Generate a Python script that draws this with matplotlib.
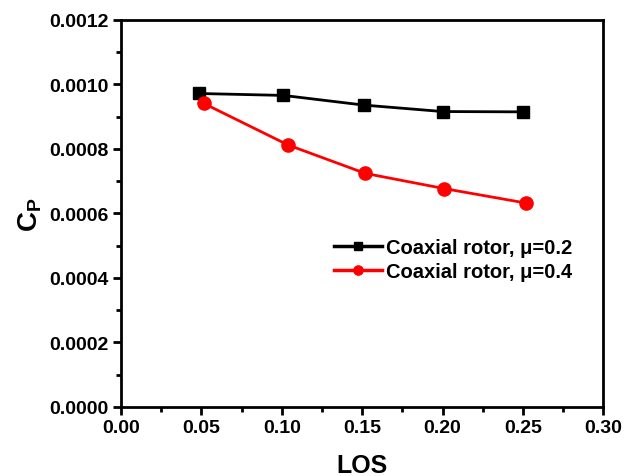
import matplotlib
matplotlib.use('Agg')
import matplotlib.pyplot as plt
from matplotlib.ticker import MultipleLocator

plt.rcParams['font.family'] = ['Liberation Sans', 'DejaVu Sans']
plt.rcParams['font.weight'] = 'bold'
plt.rcParams['mathtext.fontset'] = 'custom'
plt.rcParams['mathtext.rm'] = 'Liberation Sans:bold'
plt.rcParams['mathtext.bf'] = 'Liberation Sans:bold'
plt.rcParams['mathtext.it'] = 'Liberation Sans:bold'

# data
los_02 = [0.0484, 0.101, 0.151, 0.200, 0.250]
cp_02 = [0.000972, 0.000966, 0.000936, 0.000916, 0.000915]
los_04 = [0.0515, 0.104, 0.152, 0.201, 0.252]
cp_04 = [0.000941, 0.000812, 0.000724, 0.000677, 0.000632]
labels = ['Coaxial rotor, μ=0.2', 'Coaxial rotor, μ=0.4']

fig = plt.figure(figsize=(6.24, 4.77), dpi=100)
ax = fig.add_axes([0.194, 0.145, 0.773, 0.811])

ax.plot(los_02, cp_02, color='black', marker='s', markersize=8.5, linewidth=2, label=labels[0])
ax.plot(los_04, cp_04, color='red', marker='o', markersize=9.5, linewidth=2, label=labels[1])

ax.set_xlim(0, 0.30)
ax.set_ylim(0, 0.0012)
ax.xaxis.set_major_locator(MultipleLocator(0.05))
ax.xaxis.set_minor_locator(MultipleLocator(0.025))
ax.yaxis.set_major_locator(MultipleLocator(0.0002))
ax.yaxis.set_minor_locator(MultipleLocator(0.0001))
ax.set_xticklabels([f'{v:.2f}' for v in ax.get_xticks()])
ax.set_yticklabels([f'{v:.4f}' for v in ax.get_yticks()])

ax.tick_params(which='major', direction='out', length=6, width=2, labelsize=14, pad=3)
ax.tick_params(which='minor', direction='out', length=3.5, width=2)
for s in ax.spines.values():
    s.set_linewidth(2)

ax.set_xlabel('LOS', fontsize=18, fontweight='bold', labelpad=12)
ax.set_ylabel(r'$\mathrm{C_P}$', fontsize=20, labelpad=4)

leg = ax.legend(loc='center right', bbox_to_anchor=(0.973, 0.38), frameon=False,
                fontsize=14.5, handlelength=2.4, handletextpad=0.2, labelspacing=0.25,
                markerscale=0.7)
for line in leg.get_lines():
    line.set_linewidth(2.5)

fig.savefig('out.png', dpi=100)
